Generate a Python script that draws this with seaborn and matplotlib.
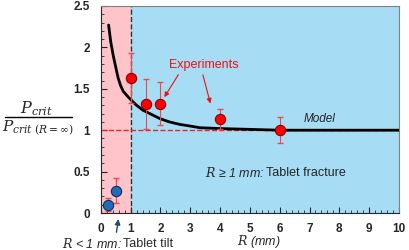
import numpy as np
import pandas as pd
import matplotlib
matplotlib.use("Agg")
import matplotlib.pyplot as plt
import seaborn as sns

sns.set_style("ticks")
plt.rcParams['font.family'] = ['Liberation Sans', 'DejaVu Sans']
plt.rcParams['mathtext.fontset'] = 'dejavuserif'

# experimental points (R in mm, normalised critical pressure, error)
tilt_R = [0.25, 0.5]
tilt_p = [0.10, 0.27]
tilt_err = [0.08, 0.15]

frac_R = [1.0, 1.5, 2.0, 4.0, 6.0]
frac_p = [1.63, 1.32, 1.32, 1.14, 1.00]
frac_err = [0.30, 0.30, 0.26, 0.12, 0.16]

# model curve
model_R = [0.26, 0.33, 0.41, 0.5, 0.58, 0.66, 0.75, 0.87, 1.0, 1.2, 1.42, 1.7,
           1.98, 2.3, 2.65, 3.0, 3.32, 4.0, 5.0, 6.0, 8.0, 10.0]
model_p = [2.27, 2.07, 1.91, 1.76, 1.63, 1.54, 1.47, 1.42, 1.37, 1.30, 1.24, 1.19,
           1.14, 1.10, 1.07, 1.05, 1.03, 1.02, 1.01, 1.0, 1.0, 1.0]

df_model = pd.DataFrame({'R': model_R, 'p': model_p})
df_tilt = pd.DataFrame({'R': tilt_R, 'p': tilt_p})
df_frac = pd.DataFrame({'R': frac_R, 'p': frac_p})

fig = plt.figure(figsize=(4.1, 2.5), dpi=100)
ax = fig.add_axes([0.246, 0.148, 0.727, 0.828])

# shaded regimes
ax.axvspan(0, 1, color='#FFC3CA', zorder=0)
ax.axvspan(1, 10, color='#A6DDF5', zorder=0)
ax.axvline(1, color='#333333', ls='--', lw=1, zorder=1)
ax.axhline(1, color='#E8262B', ls='--', lw=1, zorder=1)

sns.lineplot(data=df_model, x='R', y='p', color='black', lw=2, ax=ax, zorder=3)

ax.errorbar(tilt_R, tilt_p, yerr=tilt_err, fmt='none', ecolor='#F04848',
            elinewidth=0.8, capsize=2, zorder=4)
ax.errorbar(frac_R, frac_p, yerr=frac_err, fmt='none', ecolor='#F04848',
            elinewidth=0.8, capsize=2, zorder=4)
sns.scatterplot(data=df_tilt, x='R', y='p', color='#1F6DB8', edgecolor='#0A2F5A',
                s=55, linewidth=0.8, ax=ax, zorder=5)
sns.scatterplot(data=df_frac, x='R', y='p', color='#FF0000', edgecolor='#8B0000',
                s=55, linewidth=0.8, ax=ax, zorder=5)

ax.set_xlim(0, 10)
ax.set_ylim(0, 2.5)
ax.set_xticks(range(0, 11))
ax.set_yticks([0, 0.5, 1, 1.5, 2, 2.5])
ax.set_yticklabels(['0', '0.5', '1', '1.5', '2', '2.5'])
ax.set_xticks(np.arange(0, 10.01, 0.2), minor=True)
ax.set_yticks(np.arange(0, 2.51, 0.1), minor=True)
ax.tick_params(which='both', direction='in', labelsize=8.5)
ax.tick_params(axis='x', pad=7)
ax.tick_params(axis='y', pad=8)
ax.tick_params(which='major', length=4, width=0.8)
ax.tick_params(which='minor', length=2, width=0.6)
for lbl in ax.get_xticklabels() + ax.get_yticklabels():
    lbl.set_fontweight('bold')
for side in ['top', 'right']:
    ax.spines[side].set_color('#808080')
ax.set_xlabel('')
ax.set_ylabel('')

# y label as a fraction
fig.text(0.088, 0.566, r'$P_{crit}$', fontsize=11.5, ha='center', va='center')
fig.add_artist(plt.Line2D([0.012, 0.176], [0.532, 0.532], color='black', lw=1))
fig.text(0.092, 0.49, r'$P_{crit\ (R=\infty)}$', fontsize=11, ha='center', va='center')

fig.text(0.632, 0.032, r'$R$ (mm)', fontsize=9, style='italic', ha='center', va='center')

# annotations
ax.text(3.45, 1.79, 'Experiments', color='#EE1111', fontsize=9, ha='center', va='center')
ax.annotate('', xy=(2.08, 1.37), xytext=(2.65, 1.7),
            arrowprops=dict(arrowstyle='-|>', color='#EE1111', lw=0.8, mutation_scale=7))
ax.annotate('', xy=(3.7, 1.29), xytext=(3.4, 1.7),
            arrowprops=dict(arrowstyle='-|>', color='#EE1111', lw=0.8, mutation_scale=7))
ax.text(7.35, 1.13, 'Model', fontsize=8.5, style='italic', ha='center', va='center')
ax.text(3.5, 0.48, r'$R$' + ' \u2265 1 mm:', fontsize=9, style='italic', ha='left', va='center')
ax.text(5.55, 0.48, 'Tablet fracture', fontsize=9, ha='left', va='center')

fig.text(0.152, 0.025, r'$R$' + ' < 1 mm:', fontsize=9, style='italic', ha='left', va='center')
fig.text(0.3, 0.025, 'Tablet tilt', fontsize=9, ha='left', va='center')
fig.add_artist(matplotlib.patches.FancyArrowPatch((0.283, 0.06), (0.29, 0.135),
               transform=fig.transFigure, arrowstyle='-|>', color='#2B4A6B',
               lw=1, mutation_scale=8))

fig.savefig('out.png', dpi=100)
